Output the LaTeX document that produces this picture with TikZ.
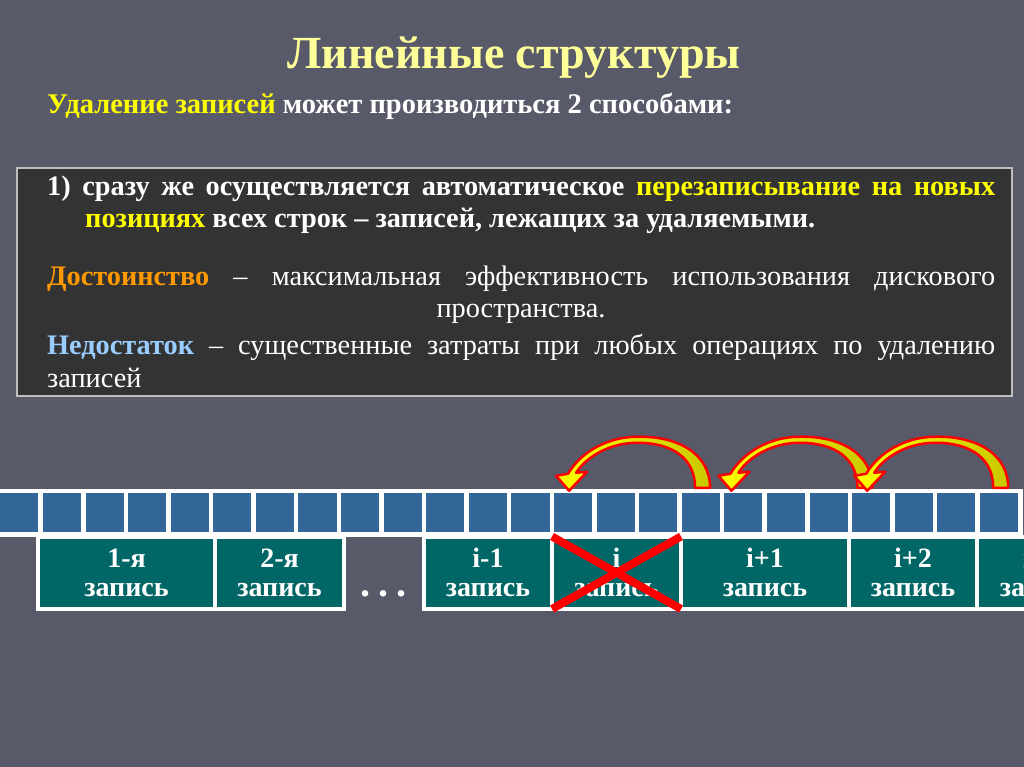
\documentclass[tikz,border=0pt]{standalone}
\usepackage{fontspec}
\setmainfont{Liberation Serif}
\usetikzlibrary{positioning}

\definecolor{slidebg}{RGB}{88,90,106}
\definecolor{panelbg}{RGB}{51,51,51}
\definecolor{panelline}{RGB}{190,190,190}
\definecolor{titleyellow}{RGB}{255,255,153}
\definecolor{hlyellow}{RGB}{255,255,0}
\definecolor{advorange}{RGB}{255,153,0}
\definecolor{disblue}{RGB}{153,204,255}
\definecolor{cellblue}{RGB}{51,102,153}
\definecolor{recteal}{RGB}{0,102,102}
\definecolor{arrowolive}{RGB}{200,200,0}

\newcommand{\bodysize}{\fontsize{28.3}{32}\selectfont}

% curved move arrow, tip over square #2
\newcommand{\shiftarrow}[2][0]{%
  \path[movearrow, shift={(#2.north)}, xshift=#1pt]
    (137,-3) .. controls (137,-37) and (105,-55) .. (64,-54)
    .. controls (35,-54) and (8,-39) .. (-5,-17)
    -- (-17,-15) -- (-4,0) -- (14,-19) -- (3,-18)
    .. controls (14,-35) and (38,-48) .. (64,-48)
    .. controls (100,-48) and (122,-32) .. (122,-3) -- cycle;}

\begin{document}
\begin{tikzpicture}[x=1pt, y=-1pt,
  cell/.style={draw=white, line width=4.5pt, fill=cellblue, minimum width=42.6pt,
    minimum height=43.5pt, inner sep=0pt, outer sep=0pt},
  record/.style={draw=white, line width=4pt, fill=recteal, text=white, align=center,
    font=\bfseries\fontsize{28}{29}\selectfont, minimum height=72.5pt,
    inner sep=0pt, outer sep=0pt},
  bodytext/.style={anchor=base west, inner sep=0pt, text=white, font=\bodysize},
  movearrow/.style={draw=red, line width=2.5pt, line join=round,
    left color=hlyellow, right color=arrowolive},
  crossline/.style={draw=red, line width=8pt}]

\useasboundingbox (0,0) rectangle (1024,767);
\clip (0,0) rectangle (1024,767);
\fill[slidebg] (0,0) rectangle (1024,767);

% heading
\node[anchor=base, inner sep=0pt, text=titleyellow, font=\bfseries\fontsize{46}{50}\selectfont]
  (title) at (514,69) {Линейные структуры};
\node[anchor=base west, inner sep=0pt, text=white, font=\bfseries\fontsize{28.5}{32}\selectfont]
  (subtitle) at (47,114) {\textcolor{hlyellow}{Удаление записей} может производиться 2 способами:};

% text panel
\node[draw=panelline, line width=2pt, fill=panelbg, minimum width=995pt, minimum height=228pt,
  inner sep=0pt] (panel) at (514.5,282) {};
\node[bodytext, font=\bodysize\bfseries] (line1) at (47,196)
  {\makebox[948pt][s]{1) сразу же осуществляется автоматическое \textcolor{hlyellow}{перезаписывание на новых}}};
\node[bodytext, font=\bodysize\bfseries] (line2) at (85,228)
  {\textcolor{hlyellow}{позициях} всех строк – записей, лежащих за удаляемыми.};
\node[bodytext] (adv) at (47,285)
  {\makebox[948pt][s]{\textcolor{advorange}{\textbf{Достоинство}} – максимальная эффективность использования дискового}};
\node[bodytext, anchor=base] (adv2) at (521,317) {пространства.};
\node[bodytext] (dis) at (47,354)
  {\makebox[948pt][s]{\textcolor{disblue}{\textbf{Недостаток}} – существенные затраты при любых операциях по удалению}};
\node[bodytext] (dis2) at (47,387) {записей};

% memory cells
\foreach \i in {0,...,23}
  \node[cell] (s\i) at ({19.4+42.59*\i},512.5) {};

% records
\node[record, minimum width=177pt] (r1) at (126.5,572.75) {1-я\\запись};
\node[record, minimum width=129pt, right=0pt of r1] (r2) {2-я\\запись};
\node[record, minimum width=128pt, right=80pt of r2] (rim1) {i-1\\запись};
\node[record, minimum width=129pt, right=0pt of rim1] (ri) {i\\запись};
\node[record, minimum width=168pt, right=0pt of ri] (rip1) {i+1\\запись};
\node[record, minimum width=128pt, right=0pt of rip1] (rip2) {i+2\\запись};
\node[record, minimum width=130pt, right=0pt of rip2] (rip3) {i+3\\запись};
\node[anchor=base, inner sep=0pt, text=white, font=\bfseries\fontsize{40}{40}\selectfont]
  (gap) at (383,596) {.\kern8pt.\kern8pt.};

% deleted record
\draw[crossline] (ri.north west) -- (ri.south east);
\draw[crossline] (ri.south west) -- (ri.north east);

% shifts
\shiftarrow{s13}
\shiftarrow[-8]{s17}
\shiftarrow{s20}
\end{tikzpicture}
\end{document}
